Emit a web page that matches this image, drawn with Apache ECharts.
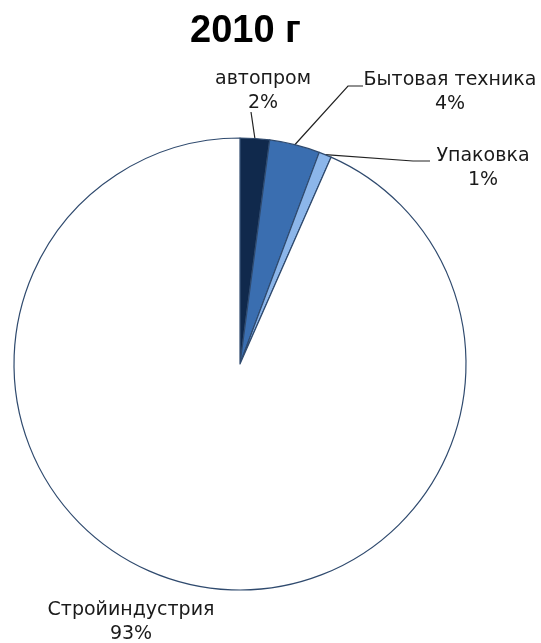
<!DOCTYPE html>
<html><head><meta charset="utf-8">
<script src="https://cdn.jsdelivr.net/npm/echarts@6/dist/echarts.min.js"></script>
<style>html,body{margin:0;padding:0;background:#fff}#c{width:541px;height:643px}</style>
</head><body><div id="c"></div>
<script>
const categories = ['автопром', 'Бытовая техника', 'Упаковка', 'Стройиндустрия'];
const values = [2.1, 3.6, 0.9, 93.4];
const colors = ['#10294c', '#3a6eb0', '#8cb6ea', '#ffffff'];
const titleText = '2010 г';

// label anchor positions (layout only)
const labelPos = [
  {x: 263, y: 91, line: [[251, 112]]},
  {x: 450, y: 92, line: [[348, 86], [363, 86]]},
  {x: 483, y: 168, line: [[413, 161], [430, 161]]},
  {x: 131, y: 622, line: null}
];

const chart = echarts.init(document.getElementById('c'));
chart.setOption({
  backgroundColor: '#fff',
  title: {
    text: titleText, left: 185, top: 8,
    textStyle: {fontFamily: '"Liberation Sans", Arial', fontWeight: 'bold', fontSize: 38, color: '#000'}
  },
  series: [{
    type: 'pie',
    center: [240, 364],
    radius: 226,
    startAngle: 90,
    clockwise: true,
    percentPrecision: 0,
    animation: false,
    data: categories.map((c, i) => ({
      name: c, value: values[i],
      itemStyle: {color: colors[i]},
      labelLine: {show: labelPos[i].line !== null}
    })),
    itemStyle: {borderColor: '#2f4a6e', borderWidth: 1.2},
    label: {
      formatter: '{b}\n{d}%',
      fontFamily: '"DejaVu Sans", Verdana',
      fontSize: 19, lineHeight: 24,
      overflow: 'none',
      color: '#1a1a1a', align: 'center'
    },
    labelLine: {lineStyle: {color: '#222', width: 1.2}, length: 10, length2: 10},
    labelLayout: function (p) {
      const lp = labelPos[p.dataIndex];
      const res = {x: lp.x, y: lp.y, align: 'center', verticalAlign: 'middle'};
      if (lp.line && p.labelLinePoints) {
        res.labelLinePoints = [p.labelLinePoints[0]].concat(lp.line);
      }
      return res;
    }
  }]
});
</script></body></html>
